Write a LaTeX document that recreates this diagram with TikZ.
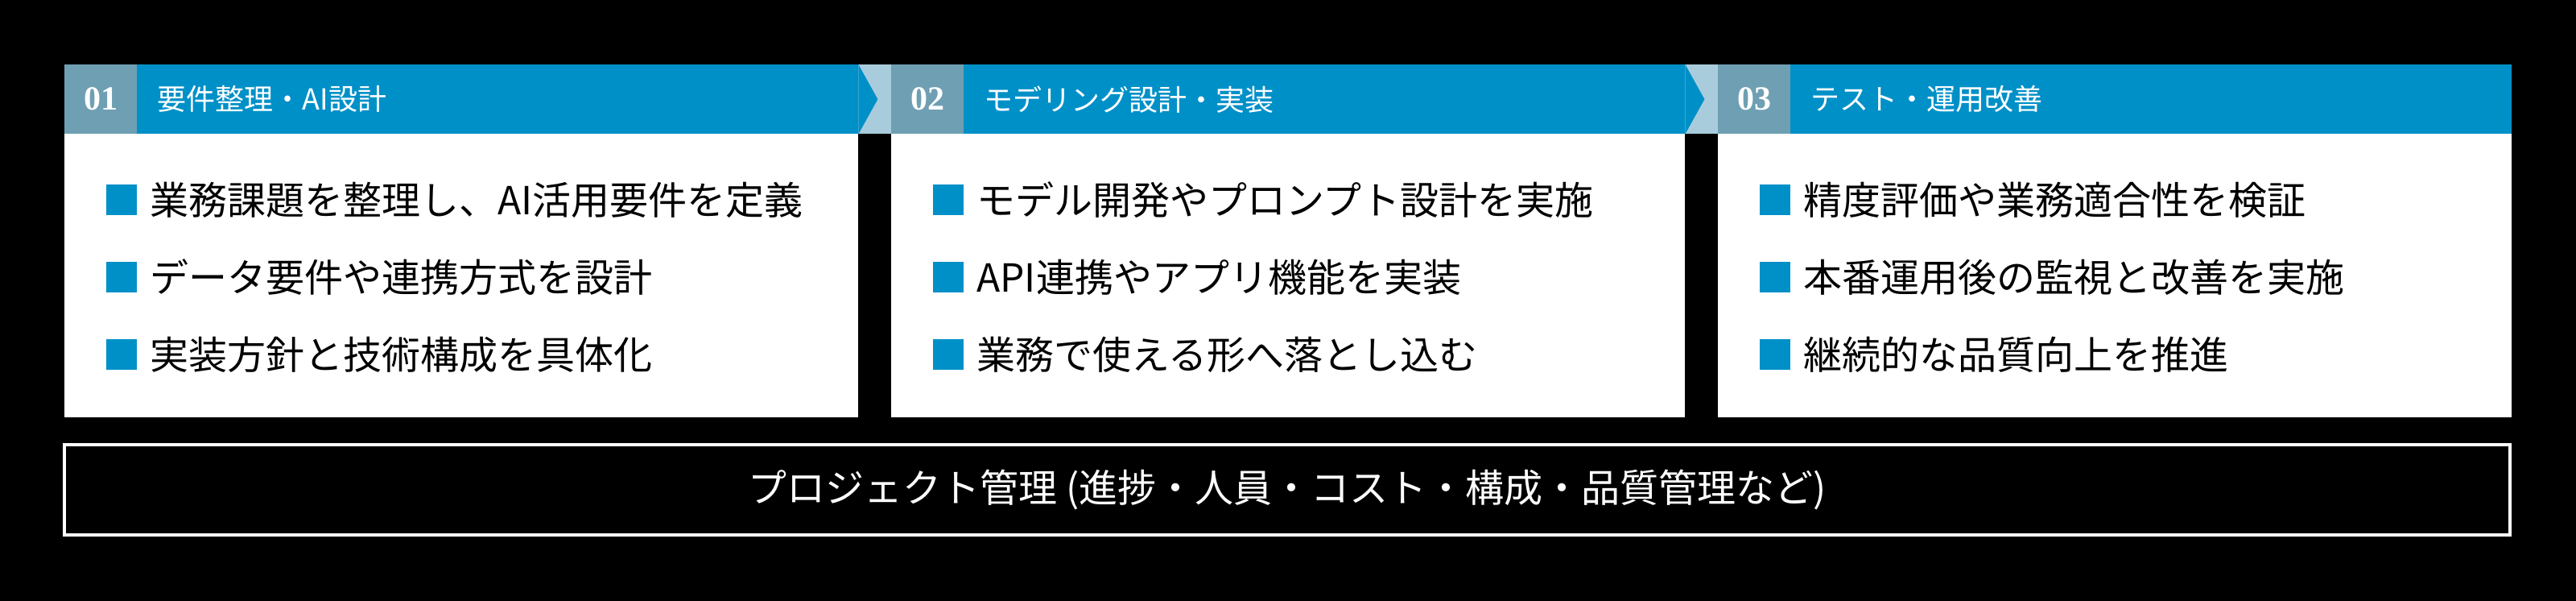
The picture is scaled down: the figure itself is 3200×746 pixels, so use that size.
\documentclass[tikz,border=0pt]{standalone}
\usepackage{fontspec}
\setmainfont{Noto Sans CJK JP}
\newfontfamily\numfont{Liberation Serif}
\usetikzlibrary{positioning}
\definecolor{headblue}{HTML}{0090C8}
\definecolor{numgrey}{HTML}{6F9FB3}
\definecolor{gapblue}{HTML}{A9CCDD}
\begin{document}
\begin{tikzpicture}[x=1pt,y=-1pt,
  headbar/.style={fill=headblue,inner sep=0pt,minimum width=986pt,minimum height=86pt,anchor=north west},
  numbox/.style={fill=numgrey,text=white,font=\numfont\bfseries\fontsize{42}{42}\selectfont,inner sep=0pt,minimum width=90pt,minimum height=86pt,anchor=north west},
  headtitle/.style={text=white,font=\fontsize{36}{36}\selectfont,inner sep=0pt},
  card/.style={fill=white,inner sep=0pt,minimum width=986pt,minimum height=352pt,anchor=north west},
  bullet/.style={fill=headblue,inner sep=0pt,minimum size=38pt},
  item/.style={font=\fontsize{48}{48}\selectfont,inner sep=0pt},
  pmbox/.style={draw=white,line width=4pt,text=white,font=\fontsize{48}{48}\selectfont,minimum width=3038pt,minimum height=112pt}]
\fill[black] (0,0) rectangle (3200,746);
\useasboundingbox (0,0) rectangle (3200,746);
% three phases
\foreach \i/\L/\num/\title in {1/80/01/要件整理・AI設計,2/1107/02/モデリング設計・実装,3/2134/03/テスト・運用改善}
{
  \node[headbar] (head\i) at (\L,80) {};
  \node[numbox] (num\i) at (\L,80) {\num};
  \node[headtitle,right=25pt of num\i] (title\i) {\title};
  \node[card] (card\i) at (\L,166) {};
}
% chevrons between the headers
\foreach \i/\k in {1/2,2/3}
{
  \fill[gapblue] (head\i.north east) rectangle (num\k.south west);
  \fill[headblue] (head\i.north east) -- ([xshift=24pt]head\i.east) -- (head\i.south east) -- cycle;
}
% bullet items
\foreach \i/\L/\j/\y/\txt in {
  1/80/1/248/業務課題を整理し、AI活用要件を定義,
  1/80/2/344/データ要件や連携方式を設計,
  1/80/3/440/実装方針と技術構成を具体化,
  2/1107/1/248/モデル開発やプロンプト設計を実施,
  2/1107/2/344/API連携やアプリ機能を実装,
  2/1107/3/440/業務で使える形へ落とし込む,
  3/2134/1/248/精度評価や業務適合性を検証,
  3/2134/2/344/本番運用後の監視と改善を実施,
  3/2134/3/440/継続的な品質向上を推進}
{
  \node[bullet] (sq\i\j) at (\L+71,\y) {};
  \node[item,right=16pt of sq\i\j] (it\i\j) {\txt};
}
\node[pmbox] (pm) at (1599,608) {プロジェクト管理 (進捗・人員・コスト・構成・品質管理など)};
\end{tikzpicture}
\end{document}
